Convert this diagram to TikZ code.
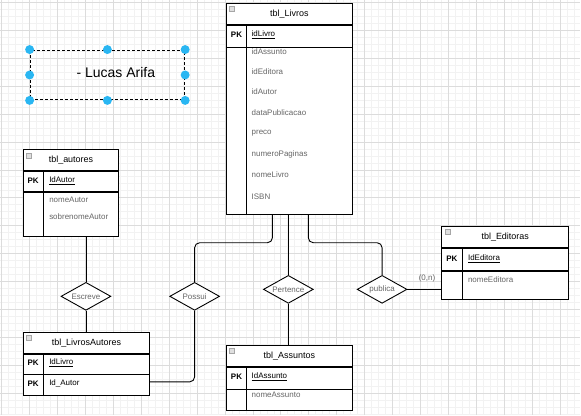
\documentclass[tikz,border=0pt]{standalone}
\usepackage{fontspec}
\setmainfont{Liberation Sans}
\usetikzlibrary{shapes.geometric,positioning}
\definecolor{gridmajor}{HTML}{DCDCDC}
\definecolor{gridminor}{HTML}{F2F2F2}
\definecolor{attrgray}{HTML}{666666}
\definecolor{handleblue}{HTML}{29B6F2}

\begin{document}
\begin{tikzpicture}[x=1pt,y=-1pt,
  every node/.style={font=\fontsize{8}{9}\selectfont},
  tblhead/.style={rectangle,draw=black,line width=0.9pt,fill=white,inner sep=0pt,font=\fontsize{9}{10}\selectfont},
  tblrow/.style={rectangle,draw=black,line width=0.9pt,fill=white,inner sep=0pt},
  tblline/.style={draw=black,line width=0.9pt},
  pklabel/.style={inner sep=0pt,font=\fontsize{8}{9}\selectfont\bfseries},
  keyattr/.style={anchor=west,inner sep=0pt},
  attr/.style={anchor=west,inner sep=0pt,text=attrgray},
  icon/.style={rectangle,draw=gray!70,fill=gray!25,minimum size=5pt,inner sep=0pt},
  rel/.style={diamond,aspect=2,draw=black,line width=0.9pt,fill=white,inner sep=0pt,minimum width=50pt,minimum height=28pt,text=attrgray},
  link/.style={draw=black,line width=0.9pt,rounded corners=5pt},
  handle/.style={circle,fill=handleblue,inner sep=0pt,minimum size=9pt}]

  % background grid
  \fill[white] (0,0) rectangle (581,416);
  \foreach \i in {0,...,83} {
    \draw[gridminor] ({1.3+7*\i},0) -- ({1.3+7*\i},416);
  }
  \foreach \i in {0,...,59} {
    \draw[gridminor] (0,{2+7*\i}) -- (581,{2+7*\i});
  }
  \foreach \i in {0,...,20} {
    \draw[gridmajor] ({1.3+28*\i},0) -- ({1.3+28*\i},416);
  }
  \foreach \i in {0,...,14} {
    \draw[gridmajor] (0,{2+28*\i}) -- (581,{2+28*\i});
  }
  \useasboundingbox (0,0) rectangle (581,416);

  % name box
  \node[draw=black,line width=1pt,dash pattern=on 3pt off 2pt,minimum width=155pt,minimum height=50pt] (lucasbox) at (107.5,75) {};
  \node[font=\fontsize{14}{16}\selectfont] (lucastext) at (116,73) {- Lucas Arifa};
  \foreach \a [count=\i] in {north west,north,north east,east,south east,south,south west,west}
    \node[handle] (handle\i) at (lucasbox.\a) {};

  % tbl_Livros
  \node[tblhead,minimum width=126pt,minimum height=21pt] (livros) at (290,13.5) {tbl\_Livros};
  \node[icon] (livrosicon) at (232.5,8.5) {};
  \node[tblrow,minimum width=126pt,minimum height=22pt,below=0pt of livros] (livrospk) {};
  \node[tblrow,minimum width=126pt,minimum height=167pt,below=0pt of livrospk] (livrosbody) {};
  \draw[tblline] ([xshift=20pt]livrospk.north west) -- ([xshift=20pt]livrosbody.south west);
  \node[pklabel] (livrospkl) at (237,35) {PK};
  \node[keyattr] (idlivro) at (252,35) {\underline{idLivro}};
  \foreach \t/\y in {idAssunto/52,idEditora/72,idAutor/92,dataPublicacao/113,preco/133,numeroPaginas/155,nomeLivro/175,ISBN/197}
    \node[attr] (livrosattr\y) at (252,\y) {\t};

  % tbl_autores
  \node[tblhead,minimum width=96pt,minimum height=21pt] (autores) at (71,160.5) {tbl\_autores};
  \node[icon] (autoresicon) at (28.5,155.5) {};
  \node[tblrow,minimum width=96pt,minimum height=20pt,below=0pt of autores] (autorespk) {};
  \node[tblrow,minimum width=96pt,minimum height=44pt,below=0pt of autorespk] (autoresbody) {};
  \draw[tblline] ([xshift=21pt]autorespk.north west) -- ([xshift=21pt]autoresbody.south west);
  \node[pklabel] (autorespkl) at (33,181) {PK};
  \node[keyattr] (idautor) at (49,181) {\underline{IdAutor}};
  \node[attr] (nomeautor) at (49,200) {nomeAutor};
  \node[attr] (sobrenomeautor) at (49,217) {sobrenomeAutor};

  % tbl_LivrosAutores
  \node[tblhead,minimum width=127pt,minimum height=21pt] (livaut) at (86.5,343.5) {tbl\_LivrosAutores};
  \node[icon] (livauticon) at (28.5,338.5) {};
  \node[tblrow,minimum width=127pt,minimum height=20pt,below=0pt of livaut] (livautpk1) {};
  \node[tblrow,minimum width=127pt,minimum height=21pt,below=0pt of livautpk1] (livautpk2) {};
  \draw[tblline] ([xshift=21pt]livautpk1.north west) -- ([xshift=21pt]livautpk2.south west);
  \node[pklabel] (livautpkl1) at (33,364) {PK};
  \node[keyattr] (livautlivro) at (49,364) {\underline{IdLivro}};
  \node[pklabel] (livautpkl2) at (33,384.5) {PK};
  \node[keyattr] (livautautor) at (49,384.5) {Id\_Autor};

  % tbl_Assuntos
  \node[tblhead,minimum width=126pt,minimum height=21pt] (assuntos) at (290,356.5) {tbl\_Assuntos};
  \node[icon] (assuntosicon) at (232.5,351.5) {};
  \node[tblrow,minimum width=126pt,minimum height=22pt,below=0pt of assuntos] (assuntospk) {};
  \node[tblrow,minimum width=126pt,minimum height=21pt,below=0pt of assuntospk] (assuntosbody) {};
  \draw[tblline] ([xshift=20pt]assuntospk.north west) -- ([xshift=20pt]assuntosbody.south west);
  \node[pklabel] (assuntospkl) at (237,378) {PK};
  \node[keyattr] (idassunto) at (252,378) {\underline{IdAssunto}};
  \node[attr] (nomeassunto) at (252,396) {nomeAssunto};

  % tbl_Editoras
  \node[tblhead,minimum width=127pt,minimum height=21pt] (editoras) at (506.5,237.5) {tbl\_Editoras};
  \node[icon] (editorasicon) at (448.5,232.5) {};
  \node[tblrow,minimum width=127pt,minimum height=22pt,below=0pt of editoras] (editoraspk) {};
  \node[tblrow,minimum width=127pt,minimum height=28pt,below=0pt of editoraspk] (editorasbody) {};
  \draw[tblline] ([xshift=21pt]editoraspk.north west) -- ([xshift=21pt]editorasbody.south west);
  \node[pklabel] (editoraspkl) at (453,259) {PK};
  \node[keyattr] (ideditora) at (469,259) {\underline{IdEditora}};
  \node[attr] (nomeeditora) at (469,280) {nomeEditora};

  % relationships
  \node[rel] (escreve) at (86,297) {Escreve};
  \node[rel] (possui) at (195,297) {Possui};
  \node[rel] (pertence) at (289,290) {Pertence};
  \node[rel] (publica) at (383,290) {publica};

  \draw[link] (escreve.north |- autoresbody.south) -- (escreve.north);
  \draw[link] (escreve.south) -- (escreve.south |- livaut.north);
  \draw[link] ([xshift=-17pt]livrosbody.south) -- ++(0,28) -| (possui.north);
  \draw[link] (possui.south) |- ([yshift=3.5pt]livautpk2.east);
  \draw[link] (pertence.north |- livrosbody.south) -- (pertence.north);
  \draw[link] (pertence.south) -- (pertence.south |- assuntos.north);
  \draw[link] ([xshift=19pt]livrosbody.south) -- ++(0,28) -| (publica.north);
  \draw[link] (publica.east) -- (publica.east -| editorasbody.west);
  \node[text=attrgray] (zeron) at (428,279) {(0,n)};

\end{tikzpicture}
\end{document}
